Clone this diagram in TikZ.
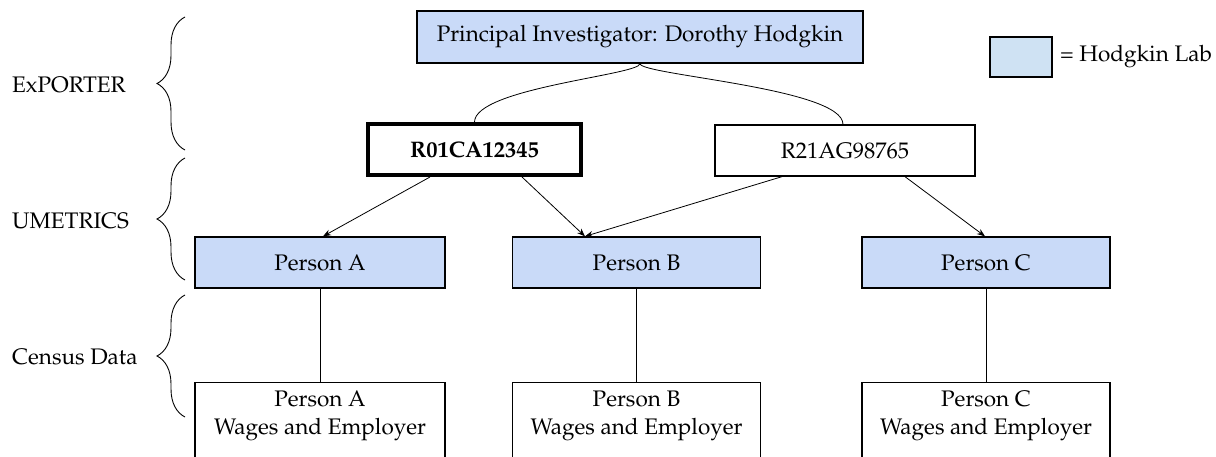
\documentclass[tikz,border=0pt]{standalone}
\usepackage[T1]{fontenc}
\usepackage{mathpazo}
\usetikzlibrary{decorations.pathreplacing,arrows.meta}
\definecolor{labblue}{HTML}{C9DAF8}
\definecolor{legblue}{HTML}{CFE2F3}
\tikzset{
  box/.style={draw, line width=1.3pt, rectangle, inner sep=0pt, align=center},
  lab/.style={box, fill=labblue},
  conn/.style={line width=0.8pt},
  arr/.style={conn, -{Stealth[length=8pt,width=6pt]}},
  brc/.style={decorate, decoration={brace, amplitude=28pt, aspect=0.5}, line width=0.9pt},
  txt/.style={font=\fontsize{22.5}{28}\selectfont}
}
\begin{document}
\begin{tikzpicture}[x=1pt,y=-1pt,txt]
\useasboundingbox (0,0) rectangle (1216,457);
\clip (0,0) rectangle (1216,457);
% top
\node[lab, minimum width=446, minimum height=52] (pi) at (640,37) {Principal Investigator: Dorothy Hodgkin};
\node[box, line width=4pt, minimum width=213, minimum height=51] (r01) at (474.5,149.5) {\textbf{R01CA12345}};
\node[box, minimum width=260, minimum height=51] (r21) at (845,150.5) {R21AG98765};
% persons
\node[lab, minimum width=250, minimum height=51] (pa) at (320,262.5) {Person A};
\node[lab, minimum width=248, minimum height=51] (pb) at (636.5,262.5) {Person B};
\node[lab, minimum width=248, minimum height=51] (pc) at (986,262.5) {Person C};
% bottom boxes
\node[box, minimum width=250, minimum height=120, anchor=north] (wa) at (320,382) {};
\node[box, minimum width=248, minimum height=120, anchor=north] (wb) at (636.5,382) {};
\node[box, minimum width=248, minimum height=120, anchor=north] (wc) at (986,382) {};
\node[align=center, anchor=north, inner sep=0pt] (ta) at ([yshift=-9pt]wa.north) {Person A\\Wages and Employer};
\node[align=center, anchor=north, inner sep=0pt] (tb) at ([yshift=-9pt]wb.north) {Person B\\Wages and Employer};
\node[align=center, anchor=north, inner sep=0pt] (tc) at ([yshift=-9pt]wc.north) {Person C\\Wages and Employer};
% curves
\draw[conn] (pi.south) .. controls (640,75) and (475,88) .. (r01.north);
\draw[conn] (pi.south) .. controls (640,75) and (843,88) .. (r21.north -| 843,0);
% arrows
\draw[arr] (r01.south -| 430,0) -- (pa.north -| 323,0);
\draw[arr] (r01.south -| 522,0) -- (pb.north -| 585,0);
\draw[arr] (r21.south -| 782,0) -- (pb.north -| 585,0);
\draw[arr] (r21.south -| 905,0) -- (pc.north -| 985,0);
% verticals
\draw[conn] (pa.south) -- (wa.north);
\draw[conn] (pb.south) -- (wb.north);
\draw[conn] (pc.south) -- (wc.north);
% braces
\coordinate (b1s) at (185,150); \coordinate (b1e) at (185,17);
\coordinate (b2s) at (185,280); \coordinate (b2e) at (185,158);
\coordinate (b3s) at (185,417); \coordinate (b3e) at (185,295);
\draw[brc] (b1s) -- (b1e);
\draw[brc] (b2s) -- (b2e);
\draw[brc] (b3s) -- (b3e);
\node[anchor=west, inner sep=0pt] (l1) at (12,85) {ExPORTER};
\node[anchor=west, inner sep=0pt] (l2) at (12,221) {UMETRICS};
\node[anchor=west, inner sep=0pt] (l3) at (12,357) {Census Data};
% legend
\node[draw, line width=1.1pt, fill=legblue, minimum width=62, minimum height=40, inner sep=0pt] (leg) at (1021,57) {};
\node[anchor=west, inner sep=0pt] (legt) at (1060,57) {= Hodgkin Lab};
\end{tikzpicture}
\end{document}
